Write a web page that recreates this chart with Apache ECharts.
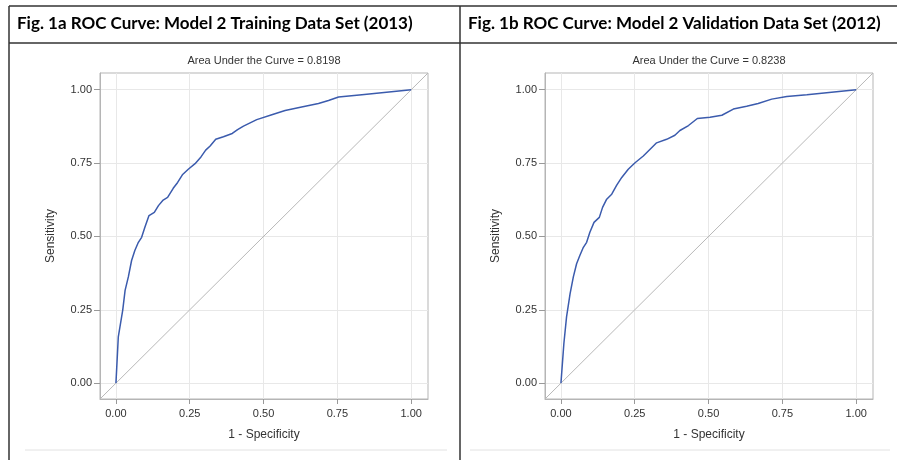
<!DOCTYPE html>
<html>
<head>
<meta charset="utf-8">
<script src="https://cdn.jsdelivr.net/npm/echarts@6/dist/echarts.min.js"></script>
<style>
html,body{margin:0;padding:0;background:#fff;}
#chart{width:897px;height:460px;}
</style>
</head>
<body>
<div id="chart"></div>
<script>
// ---- data ----
const panelTitles = ['Fig. 1a ROC Curve: Model 2 Training Data Set (2013)', 'Fig. 1b ROC Curve: Model 2 Validation Data Set (2012)'];
const aucLabels = ['Area Under the Curve = 0.8198', 'Area Under the Curve = 0.8238'];
const xAxisName = '1 - Specificity';
const yAxisName = 'Sensitivity';
const tickValues = [0, 0.25, 0.5, 0.75, 1];
const tickLabels = ['0.00', '0.25', '0.50', '0.75', '1.00'];
const axisRange = [-0.054, 1.057];

const trainFPR = [0, 0.008, 0.023, 0.031, 0.042, 0.053, 0.064, 0.076, 0.087, 0.098, 0.112, 0.130, 0.144, 0.160, 0.175, 0.194, 0.209, 0.225, 0.245, 0.268, 0.288, 0.304, 0.319, 0.338, 0.364, 0.394, 0.412, 0.432, 0.477, 0.528, 0.573, 0.629, 0.686, 0.720, 0.754, 0.833, 1.0];
const trainTPR = [0, 0.158, 0.249, 0.316, 0.362, 0.418, 0.452, 0.480, 0.497, 0.531, 0.571, 0.582, 0.605, 0.624, 0.633, 0.664, 0.684, 0.710, 0.729, 0.748, 0.771, 0.794, 0.808, 0.831, 0.840, 0.851, 0.864, 0.876, 0.898, 0.915, 0.929, 0.941, 0.953, 0.963, 0.975, 0.983, 1.0];

const validFPR = [0, 0.010, 0.019, 0.031, 0.042, 0.053, 0.064, 0.076, 0.087, 0.098, 0.112, 0.130, 0.141, 0.155, 0.172, 0.189, 0.206, 0.228, 0.251, 0.279, 0.302, 0.324, 0.358, 0.386, 0.403, 0.432, 0.462, 0.505, 0.545, 0.584, 0.629, 0.668, 0.714, 0.765, 0.833, 1.0];
const validTPR = [0, 0.136, 0.226, 0.305, 0.362, 0.407, 0.435, 0.463, 0.480, 0.514, 0.548, 0.565, 0.599, 0.627, 0.644, 0.675, 0.701, 0.729, 0.751, 0.774, 0.797, 0.819, 0.831, 0.845, 0.861, 0.878, 0.902, 0.906, 0.913, 0.934, 0.944, 0.953, 0.968, 0.977, 0.983, 1.0];

// ---- build ----
const pair = (xs, ys) => xs.map((x, i) => [x, ys[i]]);
const grids = [
  { left: 100, top: 73, width: 328, height: 326 },
  { left: 545, top: 73, width: 328, height: 326 }
];
const centers = grids.map(g => g.left + g.width / 2);
const boxColor = '#b5b5b5';

function axisCommon(i, name, gap, tickLen, margin) {
  return {
    type: 'value', gridIndex: i, min: axisRange[0], max: axisRange[1],
    name: name, nameLocation: 'middle', nameGap: gap,
    nameTextStyle: { fontFamily: 'Liberation Sans', fontSize: 12, color: '#333' },
    axisLine: { show: true, onZero: false, lineStyle: { color: boxColor, width: 1 } },
    axisTick: { show: true, inside: false, length: tickLen, lineStyle: { color: '#999' }, customValues: tickValues },
    axisLabel: { customValues: tickValues, margin: margin, fontFamily: 'Liberation Sans', fontSize: 11, color: '#333',
      formatter: v => tickLabels[tickValues.indexOf(v)] ?? v.toFixed(2) },
    splitLine: { show: true, lineStyle: { color: '#e8e8e8', width: 1 } }
  };
}
const makeX = i => Object.assign(axisCommon(i, xAxisName, 30, 5, 9), { position: 'bottom' });
const makeY = i => Object.assign(axisCommon(i, yAxisName, 43, 6, 8), { position: 'left' });

const curves = [pair(trainFPR, trainTPR), pair(validFPR, validTPR)];
const diag = pair(axisRange, axisRange);

const series = [];
[0, 1].forEach(i => {
  series.push({
    type: 'line', xAxisIndex: i, yAxisIndex: i, data: diag, showSymbol: false, silent: true,
    lineStyle: { color: '#b8b8b8', width: 1 }, animation: false, z: 2
  });
  series.push({
    type: 'line', xAxisIndex: i, yAxisIndex: i, data: curves[i], showSymbol: false, smooth: false,
    lineStyle: { color: '#3b5bad', width: 1.5 }, animation: false, z: 3
  });
});

const titles = [];
[0, 1].forEach(i => {
  titles.push({
    text: panelTitles[i], left: i === 0 ? 17 : 468, top: 15,
    textStyle: { fontFamily: 'Lato', fontWeight: 'bold', fontSize: 17, color: '#000' }, padding: 0
  });
  titles.push({
    text: aucLabels[i], left: centers[i], top: 55, textAlign: 'center', padding: 0,
    textStyle: { fontFamily: 'Liberation Sans', fontWeight: 'normal', fontSize: 11, color: '#333' }
  });
});

const frameColor = '#333';
const option = {
  backgroundColor: '#fff',
  animation: false,
  title: titles,
  grid: grids.map(g => Object.assign({ show: true, borderColor: boxColor, borderWidth: 1, containLabel: false }, g)),
  xAxis: [makeX(0), makeX(1)],
  yAxis: [makeY(0), makeY(1)],
  series: series,
  graphic: [
    { type: 'line', shape: { x1: 9, y1: 6, x2: 897, y2: 6 }, style: { stroke: frameColor, lineWidth: 1.5 } },
    { type: 'line', shape: { x1: 9, y1: 6, x2: 9, y2: 460 }, style: { stroke: frameColor, lineWidth: 1.5 } },
    { type: 'line', shape: { x1: 9, y1: 43, x2: 897, y2: 43 }, style: { stroke: frameColor, lineWidth: 1.5 } },
    { type: 'line', shape: { x1: 460, y1: 6, x2: 460, y2: 460 }, style: { stroke: frameColor, lineWidth: 1.5 } },
    { type: 'line', shape: { x1: 25, y1: 450, x2: 447, y2: 450 }, style: { stroke: '#e2e2e2', lineWidth: 1 } },
    { type: 'line', shape: { x1: 470, y1: 450, x2: 890, y2: 450 }, style: { stroke: '#e2e2e2', lineWidth: 1 } }
  ]
};

const chart = echarts.init(document.getElementById('chart'), null, { renderer: 'canvas' });
chart.setOption(option);
</script>
</body>
</html>
